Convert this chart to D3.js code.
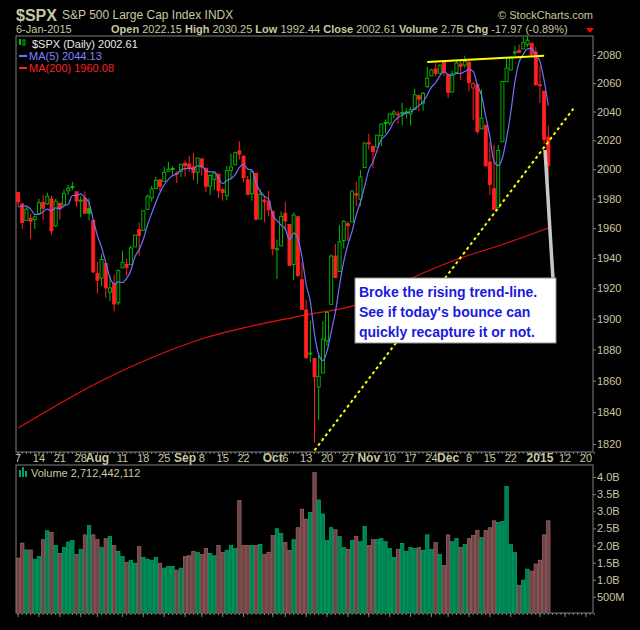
<!DOCTYPE html>
<html><head><meta charset="utf-8">
<script src="https://cdn.jsdelivr.net/npm/d3@7"></script>
<style>body{margin:0;background:#000}svg{display:block}text{font-family:"Liberation Sans",Arial,sans-serif}</style>
</head><body>
<script>
// ---- data ----
var dates = ['2014-07-07','2014-07-08','2014-07-09','2014-07-10','2014-07-11','2014-07-14','2014-07-15','2014-07-16','2014-07-17','2014-07-18','2014-07-21','2014-07-22','2014-07-23','2014-07-24','2014-07-25','2014-07-28','2014-07-29','2014-07-30','2014-07-31',
 '2014-08-01','2014-08-04','2014-08-05','2014-08-06','2014-08-07','2014-08-08','2014-08-11','2014-08-12','2014-08-13','2014-08-14','2014-08-15','2014-08-18','2014-08-19','2014-08-20','2014-08-21','2014-08-22','2014-08-25','2014-08-26','2014-08-27','2014-08-28','2014-08-29',
 '2014-09-02','2014-09-03','2014-09-04','2014-09-05','2014-09-08','2014-09-09','2014-09-10','2014-09-11','2014-09-12','2014-09-15','2014-09-16','2014-09-17','2014-09-18','2014-09-19','2014-09-22','2014-09-23','2014-09-24','2014-09-25','2014-09-26','2014-09-29','2014-09-30',
 '2014-10-01','2014-10-02','2014-10-03','2014-10-06','2014-10-07','2014-10-08','2014-10-09','2014-10-10','2014-10-13','2014-10-14','2014-10-15','2014-10-16','2014-10-17','2014-10-20','2014-10-21','2014-10-22','2014-10-23','2014-10-24','2014-10-27','2014-10-28','2014-10-29','2014-10-30','2014-10-31',
 '2014-11-03','2014-11-04','2014-11-05','2014-11-06','2014-11-07','2014-11-10','2014-11-11','2014-11-12','2014-11-13','2014-11-14','2014-11-17','2014-11-18','2014-11-19','2014-11-20','2014-11-21','2014-11-24','2014-11-25','2014-11-26','2014-11-28',
 '2014-12-01','2014-12-02','2014-12-03','2014-12-04','2014-12-05','2014-12-08','2014-12-09','2014-12-10','2014-12-11','2014-12-12','2014-12-15','2014-12-16','2014-12-17','2014-12-18','2014-12-19','2014-12-22','2014-12-23','2014-12-24','2014-12-26','2014-12-29','2014-12-30','2014-12-31',
 '2015-01-02','2015-01-05','2015-01-06'];
var future = ['2015-01-07','2015-01-08','2015-01-09','2015-01-12','2015-01-13','2015-01-14','2015-01-15','2015-01-16','2015-01-20','2015-01-21','2015-01-22'];

var open = [1984.2,1976.4,1965.1,1966.7,1965.8,1969.9,1977.4,1976.4,1979.8,1961.5,1976.9,1975.7,1985.3,1988.1,1984.6,1978.3,1980.0,1973.2,1965.1,
 1929.8,1926.6,1936.3,1917.3,1923.0,1910.4,1933.4,1935.7,1935.6,1947.4,1958.9,1958.4,1972.7,1980.5,1986.8,1992.6,1991.7,1998.6,2000.5,1997.4,1998.5,
 2004.1,2003.6,2001.7,1998.0,2007.2,2000.7,1988.4,1992.9,1996.7,1986.0,1981.9,1999.3,2003.1,2012.7,2009.1,1992.8,1983.3,1997.3,1966.2,1979.0,1978.2,
 1971.4,1945.8,1948.1,1970.0,1962.4,1935.6,1967.7,1925.6,1905.7,1877.1,1874.2,1856.0,1864.9,1885.6,1909.4,1941.3,1931.0,1951.6,1963.0,1964.1,1983.3,1979.5,2001.2,
 2018.2,2015.8,2015.3,2023.3,2032.4,2032.0,2038.2,2037.8,2039.2,2039.7,2038.3,2041.5,2051.2,2045.9,2057.5,2065.1,2070.1,2067.0,2074.8,
 2065.8,2053.8,2067.5,2073.6,2072.8,2074.8,2056.6,2058.9,2027.9,2030.4,2005.0,1986.7,1973.8,2019.0,2061.0,2069.3,2081.5,2083.3,2084.3,2087.6,2088.5,2082.1,
 2058.9,2054.4,2022.15];
var high = [1984.2,1976.4,1974.2,1969.8,1968.7,1979.9,1982.5,1983.9,1981.8,1979.9,1976.9,1986.2,1989.2,1991.4,1984.6,1981.5,1984.9,1980.2,1965.1,
 1937.4,1942.9,1936.3,1927.9,1928.9,1932.4,1944.9,1939.7,1948.4,1955.2,1964.0,1972.0,1982.6,1988.6,1994.8,1993.5,2001.9,2005.0,2002.1,1998.6,2003.4,
 2006.1,2009.3,2011.2,2007.7,2007.2,2001.0,1996.7,1997.7,1996.7,1987.2,2002.3,2010.7,2012.3,2019.3,2009.1,1995.4,1999.8,1997.3,1986.4,1981.3,1985.2,
 1971.4,1952.3,1971.2,1977.8,1962.4,1970.4,1967.7,1937.0,1912.1,1898.7,1874.2,1876.0,1898.2,1905.0,1942.5,1949.3,1962.0,1965.3,1964.6,1985.1,1991.4,1999.4,2018.2,
 2024.5,2016.0,2023.8,2031.6,2034.3,2038.7,2041.3,2040.3,2046.2,2042.2,2043.1,2056.1,2052.1,2053.8,2071.5,2070.2,2074.2,2073.3,2075.8,
 2065.8,2068.8,2076.3,2077.3,2079.5,2075.8,2060.6,2058.9,2055.5,2030.4,2018.7,2016.9,2016.8,2061.2,2077.9,2078.8,2086.7,2087.6,2092.7,2093.6,2088.5,2085.7,
 2072.4,2054.4,2030.25];
var low = [1974.9,1959.5,1965.1,1952.9,1959.6,1969.9,1965.3,1975.7,1955.6,1960.8,1965.8,1975.7,1982.4,1985.8,1974.4,1967.3,1969.9,1965.1,1930.0,
 1916.4,1921.2,1913.8,1911.5,1904.8,1909.0,1933.4,1928.3,1935.6,1947.4,1941.5,1958.4,1972.7,1977.7,1986.8,1984.8,1991.7,1998.6,1996.2,1990.5,1994.7,
 1994.9,1998.1,1992.5,1990.1,1995.6,1984.6,1982.3,1985.9,1980.3,1978.5,1979.1,1993.3,2003.1,2006.6,1991.0,1982.8,1978.6,1965.1,1966.2,1964.0,1968.0,
 1941.7,1926.0,1948.1,1958.4,1935.1,1925.3,1927.6,1906.1,1874.1,1871.8,1820.7,1835.0,1864.9,1882.3,1909.4,1927.1,1931.0,1946.3,1951.4,1964.1,1975.0,1974.8,2001.2,
 2013.7,2001.0,2015.3,2015.9,2025.1,2030.2,2035.3,2031.3,2030.4,2035.2,2030.2,2041.5,2040.4,2040.5,2056.8,2065.1,2064.8,2066.6,2065.1,
 2049.6,2053.8,2066.6,2062.3,2070.8,2054.3,2034.2,2024.3,2027.9,2002.3,1982.3,1972.6,1973.8,2019.0,2061.0,2069.3,2079.5,2081.9,2084.3,2085.8,2079.5,2057.9,
 2046.0,2017.3,1992.44];
var close = [1977.7,1963.7,1972.8,1964.7,1967.6,1977.1,1973.3,1981.6,1958.1,1978.2,1973.6,1983.5,1987.0,1988.0,1978.3,1978.9,1970.0,1970.1,1930.7,
 1925.2,1939.0,1920.2,1920.2,1909.6,1931.6,1936.9,1933.8,1946.7,1955.2,1955.1,1971.7,1981.6,1986.5,1992.4,1988.4,1997.9,2000.0,2000.1,1996.7,2003.4,
 2002.3,2000.7,1997.7,2007.7,2001.5,1988.4,1995.7,1997.5,1985.5,1984.1,1999.0,2001.6,2011.4,2010.4,1994.3,1982.8,1998.3,1966.0,1982.9,1977.8,1972.3,
 1946.2,1946.2,1967.9,1964.8,1935.1,1968.9,1928.2,1906.1,1874.7,1877.7,1862.5,1862.8,1886.8,1904.0,1941.3,1927.1,1950.8,1964.6,1961.6,1985.1,1982.3,1994.7,2018.1,
 2017.8,2012.1,2023.6,2031.2,2031.9,2038.3,2039.7,2038.3,2039.3,2039.8,2041.3,2051.8,2048.7,2052.8,2063.5,2069.4,2067.0,2072.8,2067.6,
 2053.4,2066.6,2074.3,2071.9,2075.4,2060.3,2059.8,2026.1,2035.3,2002.3,1989.6,1972.7,2012.9,2061.2,2070.7,2078.5,2082.2,2081.9,2088.8,2090.6,2080.4,2058.9,
 2058.2,2020.6,2002.61];
var priorCloses = [1960.2,1973.3,1974.6,1985.4, 1985.4]; // Jun 30 - Jul 3 (last = prev close of Jul 7)
// volume, billions
var volume = [1.63,2.07,1.87,1.87,1.60,1.68,2.17,2.43,2.38,2.00,1.77,1.94,2.10,2.15,1.74,1.89,2.31,2.58,2.31,
 2.17,1.94,2.20,2.26,2.00,1.83,1.68,1.51,1.57,1.48,1.97,1.65,1.60,1.57,1.65,1.48,1.34,1.39,1.39,1.28,1.34,
 1.68,1.70,1.83,1.80,1.74,1.91,1.77,1.70,2.00,1.80,1.86,2.00,1.91,3.31,2.00,2.00,2.00,2.00,2.03,1.74,1.80,
 2.29,2.49,2.35,2.09,1.86,2.17,2.52,3.06,2.77,2.97,4.13,3.33,2.92,2.15,2.52,2.46,2.26,1.94,1.89,2.15,2.26,2.11,2.56,
 2.00,2.17,2.17,2.20,2.11,1.91,1.65,1.89,2.06,1.83,1.94,1.91,1.94,1.86,2.31,1.89,2.09,1.74,1.42,
 2.31,2.11,2.20,1.94,2.03,2.20,2.29,2.44,2.23,2.44,2.52,2.72,2.67,2.70,3.72,2.03,1.80,0.84,0.99,1.31,1.25,1.46,1.57,
 2.31,2.72];
var ma200Dates = ['2014-07-07','2014-08-04','2014-09-05','2014-10-10','2014-10-29','2014-11-20','2014-12-03','2014-12-18','2015-01-06'];
var ma200Vals = [1830,1860,1886,1902,1909,1930,1939,1949,1960.08];
var priceTicks = [1820,1840,1860,1880,1900,1920,1940,1960,1980,2000,2020,2040,2060,2080];
var volTicks = [0.5,1,1.5,2,2.5,3,3.5,4];
var xLabels = [['2014-07-07','7'],['2014-07-14','14'],['2014-07-21','21'],['2014-07-28','28'],['2014-08-01','Aug',1],['2014-08-11','11'],['2014-08-18','18'],['2014-08-25','25'],
 ['2014-09-02','Sep',1],['2014-09-08','8'],['2014-09-15','15'],['2014-09-22','22'],['2014-10-01','Oct',1],['2014-10-06','6'],['2014-10-13','13'],['2014-10-20','20'],['2014-10-27','27'],
 ['2014-11-03','Nov',1],['2014-11-10','10'],['2014-11-17','17'],['2014-11-24','24'],['2014-12-01','Dec',1],['2014-12-08','8'],['2014-12-15','15'],['2014-12-22','22'],
 ['2015-01-02','2015',1],['2015-01-12','12'],['2015-01-20','20']];
var resistance = [['2014-11-21',2075],['2015-01-05',2079.5]];
var trendLine = [['2014-10-15',1816],['2015-01-14',2042]];

// ---- layout ----
var W = 640, H = 630;
var L = 16, R = 593, pTop = 36, pBot = 452, vTop = 465, vBot = 613;
var tan = '#c8c8a0';
var allDays = dates.concat(future);
var idx = {}; allDays.forEach((d, i) => idx[d] = i);

var svg = d3.select('body').append('svg').attr('width', W).attr('height', H).style('background', '#000');

var x = d3.scaleLinear().domain([-0.5, 137.7]).range([L, R]);
var y = d3.scaleLog().domain([1820, 2080]).range([444, 55]);
var yv = d3.scaleLinear().domain([0, 4]).range([vBot + 1, 477]);

// header
svg.append('text').attr('x', 16).attr('y', 21).attr('fill', tan).style('font-size', '16px').style('font-weight', 'bold').text('$SPX');
svg.append('text').attr('x', 62).attr('y', 19).attr('fill', tan).style('font-size', '12px').text('S&P 500 Large Cap Index  INDX');
svg.append('text').attr('x', 593).attr('y', 19).attr('fill', tan).attr('text-anchor', 'end').style('font-size', '11px').text('© StockCharts.com');
svg.append('text').attr('x', 16).attr('y', 33).attr('fill', tan).style('font-size', '11px').text('6-Jan-2015');
var hdr = svg.append('text').attr('x', 111).attr('y', 33).attr('fill', tan).style('font-size', '11px');
[['Open ', '2022.15  '], ['High ', '2030.25  '], ['Low ', '1992.44  '], ['Close ', '2002.61  '], ['Volume ', '2.7B  '], ['Chg ', '-17.97 (-0.89%)']].forEach(p => {
  hdr.append('tspan').style('font-weight', 'bold').text(p[0]);
  hdr.append('tspan').text(p[1]);
});
svg.append('path').attr('d', 'M586,28 L594,28 L590,33 Z').attr('fill', '#ff0000');

// panels
svg.append('rect').attr('x', L).attr('y', pTop).attr('width', R - L).attr('height', pBot - pTop).attr('fill', '#000').attr('stroke', '#808080');
svg.append('rect').attr('x', L).attr('y', vTop).attr('width', R - L).attr('height', vBot - vTop).attr('fill', '#000').attr('stroke', '#808080');

svg.append('clipPath').attr('id', 'cp').append('rect').attr('x', L).attr('y', pTop).attr('width', R - L).attr('height', pBot - pTop);
svg.append('clipPath').attr('id', 'cv').append('rect').attr('x', L).attr('y', vTop).attr('width', R - L).attr('height', vBot - vTop);

// right axes
var ay = d3.axisRight(y).tickValues(priceTicks).tickFormat(d3.format('d')).tickSize(3);
var gY = svg.append('g').attr('transform', `translate(${R},0)`).call(ay);
var av = d3.axisRight(yv).tickValues(volTicks).tickFormat(d => d < 1 ? (d * 1000) + 'M' : d.toFixed(1) + 'B').tickSize(3);
var gV = svg.append('g').attr('transform', `translate(${R},0)`).call(av);
[gY, gV].forEach(g => {
  g.select('.domain').remove();
  g.selectAll('line').attr('stroke', '#808080');
  g.selectAll('text').attr('fill', tan).style('font-size', '11px').attr('x', 4);
});

// x axis labels + ticks
var gx = svg.append('g');
allDays.forEach((d, i) => {
  [pBot, vBot].forEach(b => gx.append('line').attr('x1', x(i)).attr('x2', x(i)).attr('y1', b).attr('y2', b + 2).attr('stroke', '#808080'));
});
xLabels.forEach(t => {
  var xi = x(idx[t[0]]);
  [pBot, vBot].forEach(b => gx.append('line').attr('x1', xi).attr('x2', xi).attr('y1', b).attr('y2', b + 4).attr('stroke', '#808080'));
  gx.append('text').attr('x', xi).attr('y', 462).attr('text-anchor', 'middle').attr('fill', tan)
    .style('font-size', t[2] ? '12px' : '11px').style('font-weight', t[2] ? 'bold' : 'normal').text(t[1]);
});

// price layer
var gp = svg.append('g').attr('clip-path', 'url(#cp)');
var bars = dates.map((d, i) => ({ i: i, o: open[i], h: high[i], l: low[i], c: close[i], pc: i ? close[i - 1] : priorCloses[4] }));

// MA200
gp.append('path').datum(ma200Dates.map((d, k) => [idx[d], ma200Vals[k]]))
  .attr('d', d3.line().x(d => x(d[0])).y(d => y(d[1])).curve(d3.curveMonotoneX))
  .attr('fill', 'none').attr('stroke', '#e01010').attr('stroke-width', 1.2);

// candles
var green = '#00c000', red = '#ff2020';
gp.selectAll('.wick').data(bars).enter().append('line')
  .attr('x1', d => x(d.i)).attr('x2', d => x(d.i)).attr('y1', d => y(d.h)).attr('y2', d => y(d.l))
  .attr('stroke', d => d.c >= d.pc ? green : red);
gp.selectAll('.body').data(bars).enter().append('rect')
  .attr('x', d => x(d.i) - 1.5).attr('width', 3)
  .attr('y', d => y(Math.max(d.o, d.c))).attr('height', d => Math.max(1, Math.abs(y(d.o) - y(d.c))))
  .attr('fill', d => d.c < d.o ? (d.c >= d.pc ? green : red) : '#000')
  .attr('stroke', d => d.c >= d.pc ? green : red).attr('stroke-width', 0.9);

// MA5
var closesAll = priorCloses.slice(0, 4).concat(close);
var ma5 = close.map((c, i) => [i, d3.mean(closesAll.slice(i, i + 5))]);
gp.append('path').datum(ma5).attr('d', d3.line().x(d => x(d[0])).y(d => y(d[1])).curve(d3.curveMonotoneX))
  .attr('fill', 'none').attr('stroke', '#7070ff').attr('stroke-width', 1.2);

// trend lines
gp.append('line').attr('x1', x(idx[resistance[0][0]])).attr('y1', y(resistance[0][1]))
  .attr('x2', x(idx[resistance[1][0]])).attr('y2', y(resistance[1][1])).attr('stroke', '#ffff00').attr('stroke-width', 2);
gp.append('line').attr('x1', x(idx[trendLine[0][0]])).attr('y1', y(trendLine[0][1]))
  .attr('x2', x(idx[trendLine[1][0]])).attr('y2', y(trendLine[1][1])).attr('stroke', '#ffff00').attr('stroke-width', 2).attr('stroke-dasharray', '3,3');

// legend
var lg = svg.append('g');
lg.append('rect').attr('x', 19).attr('y', 39).attr('width', 2).attr('height', 6).attr('fill', green);
lg.append('rect').attr('x', 23).attr('y', 40).attr('width', 2).attr('height', 5).attr('fill', 'none').attr('stroke', green);
lg.append('text').attr('x', 32).attr('y', 48).attr('fill', '#e8e8e8').style('font-size', '11px').text('$SPX (Daily) 2002.61');
lg.append('line').attr('x1', 19).attr('x2', 27).attr('y1', 56).attr('y2', 56).attr('stroke', '#7070ff').attr('stroke-width', 2);
lg.append('text').attr('x', 29).attr('y', 60).attr('fill', '#8080ff').style('font-size', '11px').text('MA(5) 2044.13');
lg.append('line').attr('x1', 19).attr('x2', 27).attr('y1', 68).attr('y2', 68).attr('stroke', '#ff2020').attr('stroke-width', 2);
lg.append('text').attr('x', 29).attr('y', 72).attr('fill', '#ff2020').style('font-size', '11px').text('MA(200) 1960.08');

// annotation
svg.append('line').attr('x1', 545).attr('y1', 150).attr('x2', 553).attr('y2', 279).attr('stroke', '#c8c8c8').attr('stroke-width', 3.5);
svg.append('rect').attr('x', 355).attr('y', 278).attr('width', 201).attr('height', 65).attr('fill', '#fff').attr('stroke', '#909090');
['Broke the rising trend-line.', "See if today's bounce can", 'quickly recapture it or not.'].forEach((t, k) => {
  svg.append('text').attr('x', 359).attr('y', 297 + k * 20).attr('fill', '#1a1ae0').style('font-size', '14px').style('font-weight', 'bold').text(t);
});

// volume
var gvb = svg.append('g').attr('clip-path', 'url(#cv)');
gvb.selectAll('.vb').data(bars).enter().append('rect')
  .attr('x', d => x(d.i) - 1.7).attr('width', 3.4)
  .attr('y', d => yv(volume[d.i])).attr('height', d => yv(0) - yv(volume[d.i]))
  .attr('fill', d => d.c >= d.pc ? '#008050' : '#704444')
  .attr('stroke', d => d.c >= d.pc ? '#00b070' : '#a06868').attr('stroke-width', 0.7);
svg.append('rect').attr('x', 19).attr('y', 470).attr('width', 2).attr('height', 7).attr('fill', '#00a070');
svg.append('rect').attr('x', 22).attr('y', 467).attr('width', 2).attr('height', 10).attr('fill', '#00a070');
svg.append('rect').attr('x', 25).attr('y', 471).attr('width', 2).attr('height', 6).attr('fill', '#00a070');
svg.append('text').attr('x', 31).attr('y', 477).attr('fill', tan).style('font-size', '11px').text('Volume 2,712,442,112');
</script>
</body></html>
